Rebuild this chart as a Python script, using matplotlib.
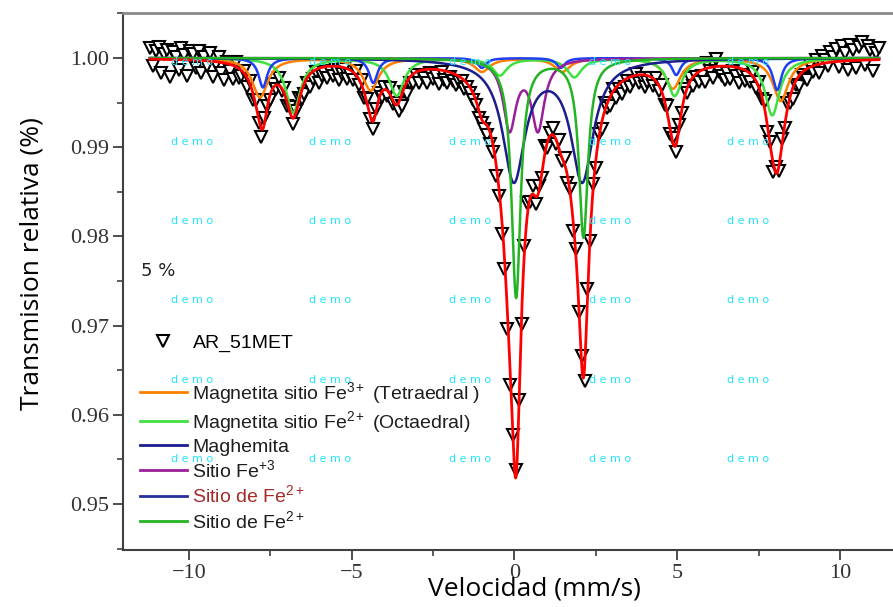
import numpy as np
import matplotlib
matplotlib.use('Agg')
import matplotlib.pyplot as plt
from matplotlib.lines import Line2D
from matplotlib.ticker import MultipleLocator, FormatStrFormatter

plt.rcParams['font.family'] = 'Liberation Serif'
plt.rcParams['mathtext.fontset'] = 'custom'
plt.rcParams['mathtext.rm'] = 'Liberation Sans'
plt.rcParams['mathtext.it'] = 'Liberation Sans:italic'

# velocity channels of the spectrum (mm/s)
vel = np.linspace(-11.2, 11.2, 256)

# fitted sub-spectra: line centres (mm/s), depths, half widths
tetra_pos = [-7.82, -4.42, -1.0, 1.47, 4.87, 8.18]
tetra_depth = [0.0044, 0.0036, 0.0015, 0.0015, 0.0034, 0.0048]
tetra_hw = 0.29
octa_pos = [-6.8, -3.62, -0.45, 1.84, 4.92, 7.92]
octa_depth = [0.0061, 0.0042, 0.0019, 0.0021, 0.0042, 0.0064]
octa_hw = 0.27
magh_pos = [-7.73, -4.34, -1.0, 1.42, 4.97, 8.07]
magh_depth = [0.0033, 0.0028, 0.0011, 0.0011, 0.0019, 0.0036]
magh_hw = 0.16
fe3_pos = [-0.15, 0.72]
fe3_depth = [0.0078, 0.0078]
fe3_hw = 0.24
fe2a_pos = [-0.02, 2.08]
fe2a_depth = [0.0135, 0.0135]
fe2a_hw = 0.42
fe2b_pos = [0.05, 2.12]
fe2b_depth = [0.0268, 0.0200]
fe2b_hw = 0.17

# measured points minus total fit, in units of 1e-4
resid = [12, -8, 9, 14, -15, 6, 11, -20, 8, 3, -12, 13, 5, -18, 10, 7,
         -9, 11, -14, 4, -6, 9, -17, -3, 6, -12, -19, 2, -8, -15, 5, -11,
         -6, 3, -10, 4, -8, 6, -5, -9, 7, 2, -6, 5, -4, 8, -3, 6,
         -4, 7, -6, 3, 5, -8, -12, -6, -14, -9, -3, -16, -10, -7, -13, -5,
         -11, -4, -15, -8, -2, -12, -6, -9, 4, -7, 5, -5, 6, -3, -8, 4,
         7, -5, 3, -6, 8, -4, 2, -9, -12, -5, -14, -7, -10, -3, -13, -6,
         -9, -15, -4, -11, -7, -16, -2, -10, -13, -5, -8, -12, -6, -3, -9, -4,
         -6, -8, -5, -9, -4, -7, -10, -12, -8, -15, -10, -18, -12, -20, -15, 5,
         8, 12, -10, 6, 14, -5, 9, -8, 6, -4, 10, -6, 3, 8, -5, 9,
         -4, 7, -9, 5, -12, 8, -6, 10, -15, 12, -8, 6, -10, 4, -7, 9,
         -6, -10, 3, -12, -5, -14, -8, -3, -11, -6, 2, -9, -4, -13, -7, -2,
         -8, 4, -6, 7, -5, 9, -4, 6, -8, 5, -3, 8, -6, 3, -10, -4,
         -12, -7, -15, 6, -4, -13, 8, -6, -11, -16, -8, -14, -5, -10, -17, -7,
         -12, -6, -9, 5, -8, 6, -4, 9, -7, 5, -10, 7, -5, 8, -3, 6,
         -8, -14, -5, -11, -3, -9, -13, 2, -7, 5, -10, 8, 3, -4, 12, 6,
         14, -6, 17, 9, -10, 18, 12, -8, 15, 20, -5, 16, 11, -12, 8, 13]


def absorb(v, pos, depth, hw):
    out = np.zeros_like(v)
    for p, d in zip(pos, depth):
        out += d * hw**2 / (hw**2 + (v - p)**2)
    return out


vf = np.linspace(-11.2, 11.2, 1500)
comps = [
    (tetra_pos, tetra_depth, tetra_hw, '#ff8000'),
    (octa_pos, octa_depth, octa_hw, '#3fe03f'),
    (magh_pos, magh_depth, magh_hw, '#1f3ff0'),
    (fe3_pos, fe3_depth, fe3_hw, '#9b1f9b'),
    (fe2a_pos, fe2a_depth, fe2a_hw, '#1c1c8e'),
    (fe2b_pos, fe2b_depth, fe2b_hw, '#22b422'),
]

def total(v):
    s = np.zeros_like(v)
    for p, d, h, c in comps:
        s += absorb(v, p, d, h)
    return 1 - s

obs = total(vel) + np.array(resid) * 1e-4

fig = plt.figure(figsize=(8.93, 6.07), dpi=100)
ax = fig.add_axes([123 / 893, 57 / 607, 782 / 893, 537 / 607])

ax.plot(vel, obs, 'v', ms=9, mfc='white', mec='black', mew=1.5, zorder=2)
for p, d, h, c in comps:
    ax.plot(vf, 1 - absorb(vf, p, d, h), color=c, lw=1.8, zorder=3)
ax.plot(vf, total(vf), color='#ff0000', lw=2.0, zorder=4)

ax.set_xlim(-12.03, 12.0)
ax.set_ylim(0.94484, 1.00504)
ax.xaxis.set_major_locator(MultipleLocator(5))
ax.xaxis.set_minor_locator(MultipleLocator(2.5))
ax.yaxis.set_major_locator(MultipleLocator(0.01))
ax.yaxis.set_minor_locator(MultipleLocator(0.005))
ax.yaxis.set_major_formatter(FormatStrFormatter('%.2f'))
ax.tick_params(which='major', direction='out', length=7, width=1.3,
               color='#404040', labelsize=16, pad=3, labelcolor='#333333')
ax.tick_params(which='minor', direction='out', length=4, width=1.2,
               color='#404040')
for s in ['left', 'bottom']:
    ax.spines[s].set_color('#404040')
    ax.spines[s].set_linewidth(1.5)
ax.spines['top'].set_color('#8a8a8a')
ax.spines['top'].set_linewidth(2.0)
ax.spines['right'].set_color('#404040')

ax.set_xlabel('Velocidad (mm/s)', family='Open Sans', fontsize=19)
ax.set_ylabel('Transmision relativa (%)', family='Open Sans', fontsize=19)
ax.xaxis.set_label_coords(0.5256, -0.05)
ax.yaxis.set_label_coords(-0.100, 0.533)

ax.text(141 / 893, (607 - 271) / 607, '5 %', transform=fig.transFigure,
        family='DejaVu Sans', fontsize=13, va='center', color='#222222')

# watermark
for wx in [192, 330, 470, 610, 748]:
    for wy in [62, 142, 221, 300, 380, 459]:
        fig.text(wx / 893, 1 - wy / 607, 'd e m o', color='#22e4ff',
                 fontsize=8, family='DejaVu Sans', ha='center', va='center',
                 zorder=5)

leg_font = {'family': 'Liberation Sans', 'size': 14}
h_data = Line2D([], [], ls='none', marker='v', ms=9, mfc='white',
                mec='black', mew=1.5)
leg1 = ax.legend([h_data], ['AR_51MET'], loc='upper left',
                 bbox_to_anchor=(140 / 893, 1 - 334 / 607),
                 bbox_transform=fig.transFigure, frameon=False, prop=leg_font,
                 handlelength=2.4, handletextpad=0.3, borderpad=0,
                 borderaxespad=0)
ax.add_artist(leg1)

labels = [r'Magnetita sitio Fe$^{3+}$ (Tetraedral )',
          r'Magnetita sitio Fe$^{2+}$ (Octaedral)',
          'Maghemita',
          r'Sitio Fe$^{+3}$',
          r'Sitio de Fe$^{2+}$',
          r'Sitio de Fe$^{2+}$']
leg_colors = ['#ff8000', '#3fe03f', '#1c1c8e', '#9b1f9b', '#26309a', '#22b422']
handles = [Line2D([], [], color=c, lw=2) for c in leg_colors]
leg2 = ax.legend(handles, labels, loc='upper left',
                 bbox_to_anchor=(140 / 893, 1 - 380 / 607),
                 bbox_transform=fig.transFigure, frameon=False, prop=leg_font,
                 handlelength=2.4, handletextpad=0.3, borderpad=0,
                 borderaxespad=0, labelspacing=0.17)
for t in leg2.get_texts():
    t.set_color('#1e1e1e')
leg2.get_texts()[4].set_color('#a52a2a')

fig.savefig('out.png', dpi=100)
